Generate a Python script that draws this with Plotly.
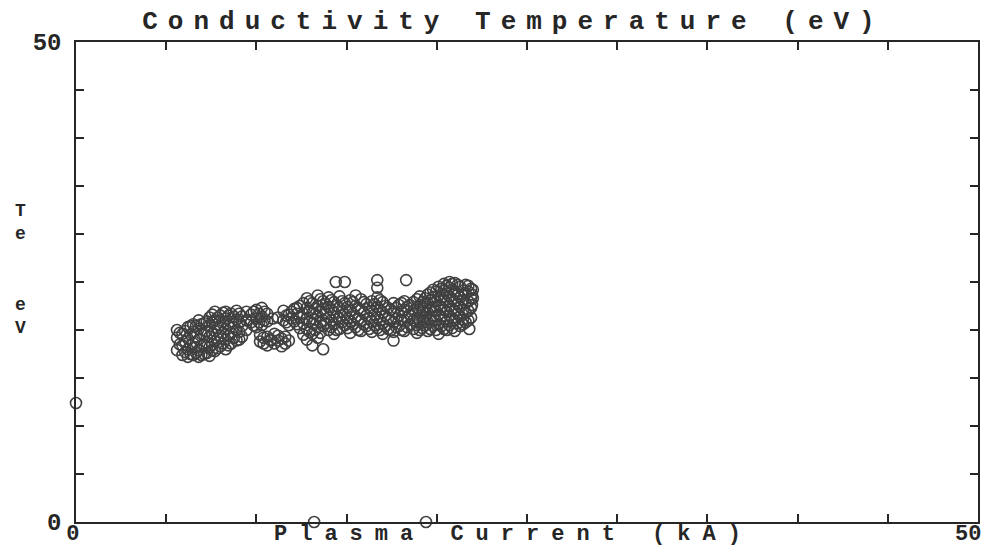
import plotly.graph_objects as go

# ---- data ----
plasma_current_ka = [
    5.6, 5.6, 5.6,
    5.9, 5.9, 5.9,
    6.2, 6.2, 6.2, 6.2,
    6.5, 6.5, 6.5, 6.5,
    6.8, 6.8, 6.8, 6.8, 6.8,
    7.1, 7.1, 7.1, 7.1,
    7.4, 7.4, 7.4, 7.4, 7.4,
    7.7, 7.7, 7.7, 7.7, 7.7,
    8.0, 8.0, 8.0, 8.0,
    8.3, 8.3, 8.3, 8.3, 8.3,
    8.6, 8.6, 8.6, 8.6,
    8.9, 8.9, 8.9, 8.9,
    9.2, 9.2, 9.2,
    9.7, 9.7, 10.0, 10.0, 10.0, 10.3, 10.3, 10.3, 10.6, 10.6, 10.9,
    10.2, 10.2, 10.6, 10.6, 11.0, 11.0, 11.4, 11.4, 11.8,
    11.5, 11.5, 11.8, 11.8, 12.1, 12.1, 12.4, 12.4, 12.4,
    12.8, 12.8, 12.8, 12.8, 12.8,
    13.1, 13.1, 13.1, 13.1, 13.1,
    13.4, 13.4, 13.4, 13.4, 13.4,
    13.7, 13.7, 13.7, 13.7, 13.7,
    14.0, 14.0, 14.0, 14.0,
    14.3, 14.3, 14.3, 14.3,
    14.4,
    14.6, 14.6, 14.6, 14.6,
    14.9, 14.9, 14.9, 14.9,
    15.2, 15.2, 15.2, 15.2,
    15.5, 15.5, 15.5, 15.5,
    15.8, 15.8, 15.8, 15.8,
    16.1, 16.1, 16.1,
    16.4, 16.4, 16.4, 16.4,
    16.7, 16.7, 16.7, 16.7, 16.7, 16.7,
    17.0, 17.0, 17.0, 17.0,
    17.3, 17.3, 17.3,
    17.6, 17.6, 17.6, 17.6, 17.6,
    17.9, 17.9, 17.9,
    18.2, 18.2, 18.2, 18.2,
    18.3,
    18.5, 18.5, 18.5,
    18.9, 18.9, 18.9, 18.9, 18.9,
    19.2, 19.2, 19.2, 19.2,
    19.5, 19.5, 19.5, 19.5, 19.5,
    19.8, 19.8, 19.8, 19.8, 19.8,
    20.1, 20.1, 20.1, 20.1, 20.1, 20.1,
    20.4, 20.4, 20.4, 20.4, 20.4, 20.4,
    20.7, 20.7, 20.7, 20.7, 20.7, 20.7,
    21.0, 21.0, 21.0, 21.0, 21.0, 21.0,
    21.3, 21.3, 21.3, 21.3, 21.3,
    21.6, 21.6, 21.6, 21.6, 21.6,
    21.8,
    21.9, 21.9, 21.9, 21.9,
    22.0, 22.0,
    0.0, 13.2, 19.4,
    # second pass of shots, read between the first ones
    5.75, 5.75,
    6.05, 6.05, 6.05,
    6.35, 6.35, 6.35, 6.35,
    6.65, 6.65, 6.65, 6.65,
    6.95, 6.95, 6.95, 6.95,
    7.25, 7.25, 7.25, 7.25,
    7.55, 7.55, 7.55, 7.55, 7.55,
    7.85, 7.85, 7.85, 7.85,
    8.15, 8.15, 8.15, 8.15,
    8.45, 8.45, 8.45, 8.45,
    8.75, 8.75, 8.75,
    9.05, 9.05, 9.05, 9.05,
    9.45, 9.45, 9.45,
    9.85, 9.85, 10.15, 10.15, 10.45, 10.45,
    10.4, 10.4, 10.8, 10.8, 11.2, 11.2, 11.6, 11.6,
    11.2, 11.65, 11.65, 11.95, 11.95,
    12.25, 12.25, 12.25,
    12.6, 12.6, 12.6, 12.6,
    12.95, 12.95, 12.95, 12.95,
    13.25, 13.25, 13.25,
    13.55, 13.55, 13.55, 13.55,
    13.85, 13.85, 13.85,
    14.15, 14.15, 14.15, 14.15,
    14.45, 14.45, 14.45,
    14.75, 14.75, 14.75,
    15.05, 15.05, 15.05,
    15.35, 15.35, 15.35,
    15.65, 15.65, 15.65,
    15.95, 15.95, 15.95,
    16.25, 16.25, 16.25,
    16.55, 16.55, 16.55,
    16.85, 16.85, 16.85, 16.85,
    17.15, 17.15, 17.15,
    17.45, 17.45, 17.45,
    17.75, 17.75, 17.75,
    18.05, 18.05, 18.05, 18.05,
    18.35, 18.35, 18.35,
    18.7, 18.7, 18.7, 18.7,
    19.05, 19.05, 19.05, 19.05, 19.05,
    19.35, 19.35, 19.35, 19.35,
    19.65, 19.65, 19.65, 19.65, 19.65,
    19.95, 19.95, 19.95, 19.95, 19.95,
    20.25, 20.25, 20.25, 20.25, 20.25,
    20.55, 20.55, 20.55, 20.55, 20.55, 20.55,
    20.85, 20.85, 20.85, 20.85, 20.85, 20.85,
    21.15, 21.15, 21.15, 21.15, 21.15,
    21.45, 21.45, 21.45, 21.45, 21.45,
    21.75, 21.75, 21.75, 21.75, 21.75,
    21.95, 21.95,
]
te_ev = [
    17.9, 19.2, 20.0,
    17.4, 18.4, 19.6,
    17.2, 18.0, 19.1, 20.3,
    17.4, 18.6, 19.8, 20.6,
    17.2, 17.9, 19.0, 20.1, 21.0,
    17.5, 18.5, 19.5, 20.7,
    17.3, 18.2, 19.3, 20.4, 21.3,
    17.8, 18.8, 19.9, 21.0, 21.9,
    18.3, 19.4, 20.5, 21.5,
    18.0, 19.0, 20.1, 21.2, 21.9,
    18.6, 19.7, 20.8, 21.7,
    18.9, 20.0, 21.1, 22.0,
    19.3, 20.4, 21.4,
    20.8, 21.6, 20.3, 21.2, 22.1, 20.5, 21.4, 22.3, 20.9, 21.7, 21.2,
    18.8, 19.5, 18.4, 19.3, 18.6, 19.6, 18.3, 19.1, 18.9,
    21.0, 22.0, 20.5, 21.6, 20.9, 22.2, 20.2, 21.3, 22.5,
    19.0, 20.1, 21.2, 22.3, 23.3,
    18.4, 19.6, 20.7, 21.8, 22.8,
    19.2, 20.3, 21.5, 22.5, 23.6,
    18.0, 20.4, 21.0, 22.2, 23.0,
    20.0, 21.3, 22.4, 23.4,
    19.6, 20.6, 21.8, 22.9,
    25.0,
    20.1, 21.2, 22.3, 23.5,
    25.0, 20.5, 21.6, 22.8,
    19.7, 20.9, 22.0, 23.1,
    20.3, 21.4, 22.5, 23.6,
    19.9, 21.0, 22.1, 23.2,
    20.4, 21.5, 22.7,
    19.8, 20.9, 22.0, 23.0,
    25.2, 24.4, 20.2, 21.3, 22.4, 23.4,
    19.6, 20.7, 21.8, 22.9,
    20.1, 21.2, 22.3,
    18.9, 19.8, 20.8, 21.9, 22.8,
    20.4, 21.5, 22.6,
    19.9, 21.0, 22.1, 23.0,
    25.2,
    20.6, 21.6, 22.6,
    19.7, 20.5, 21.3, 22.3, 23.2,
    20.2, 21.1, 22.0, 22.9,
    19.9, 20.8, 21.8, 22.8, 23.7,
    20.4, 21.4, 22.4, 23.4, 24.2,
    19.6, 20.6, 21.6, 22.6, 23.6, 24.5,
    20.1, 21.1, 22.1, 23.1, 24.1, 24.8,
    20.5, 21.5, 22.5, 23.5, 24.4, 25.0,
    19.9, 21.0, 22.0, 23.0, 24.0, 24.9,
    20.4, 21.4, 22.4, 23.4, 24.5,
    20.8, 21.8, 22.8, 23.8, 24.7,
    20.1,
    21.3, 22.3, 23.3, 24.3,
    23.3, 24.2,
    12.4, 0.0, 0.0,
    # second pass
    18.5, 19.7,
    17.7, 18.8, 19.9,
    17.5, 18.4, 19.5, 20.4,
    17.6, 18.2, 19.3, 20.4,
    17.4, 18.3, 19.6, 20.6,
    17.6, 18.7, 19.9, 20.9,
    17.9, 18.5, 19.6, 20.8, 21.6,
    18.1, 19.1, 20.2, 21.3,
    18.6, 19.7, 20.9, 21.8,
    18.4, 19.4, 20.5, 21.5,
    19.2, 20.3, 21.4,
    19.0, 19.8, 20.8, 21.7,
    20.0, 21.0, 21.9,
    20.5, 21.9, 21.7, 20.8, 21.0, 21.9,
    18.6, 19.2, 18.9, 19.0, 18.9, 19.4, 18.6, 19.3,
    21.3, 20.8, 21.5, 21.2, 21.9,
    20.6, 21.7, 22.3,
    19.5, 20.7, 21.7, 22.8,
    19.8, 20.9, 22.0, 23.0,
    20.0, 21.1, 22.2,
    19.7, 20.8, 21.9, 23.2,
    20.7, 21.7, 22.7,
    20.3, 21.0, 22.1, 23.1,
    20.0, 21.4, 22.5,
    20.8, 21.9, 23.0,
    20.2, 21.2, 22.4,
    20.6, 21.7, 22.9,
    20.0, 21.1, 22.2,
    20.6, 21.8, 22.9,
    20.1, 21.2, 22.3,
    20.5, 21.6, 22.7,
    20.0, 21.0, 22.1, 23.1,
    20.4, 21.5, 22.5,
    20.0, 21.0, 22.1,
    20.3, 21.2, 22.3,
    20.0, 21.0, 21.9, 22.8,
    20.3, 21.3, 22.4,
    20.1, 21.0, 22.0, 22.9,
    20.0, 20.9, 21.8, 22.6, 23.5,
    20.5, 21.4, 22.4, 23.3,
    20.1, 21.1, 22.1, 23.1, 23.9,
    20.0, 21.0, 22.0, 23.0, 24.0,
    20.4, 21.4, 22.4, 23.4, 24.3,
    20.0, 20.9, 21.9, 22.9, 23.8, 24.6,
    20.2, 21.2, 22.2, 23.2, 24.2, 24.8,
    20.7, 21.7, 22.7, 23.7, 24.7,
    20.6, 21.1, 22.1, 23.1, 24.1,
    21.0, 22.0, 23.0, 24.0, 24.6,
    22.6, 23.7,
]

tick_values = [0, 5, 10, 15, 20, 25, 30, 35, 40, 45, 50]
tick_labels = ["0", "", "", "", "", "", "", "", "", "", "50"]

title_text = "Conductivity Temperature (eV)"
x_title_text = "Plasma Current (kA)"
y_title_text = "T<br>e<br><br><br>e<br>V"

FONT = "Liberation Mono, Courier New, monospace"
INK = "#262626"


def spaced(s, px):
    return "<span style='letter-spacing:%dpx'>%s</span>" % (px, s)


fig = go.Figure()
fig.add_trace(go.Scatter(
    x=plasma_current_ka,
    y=te_ev,
    mode="markers",
    marker=dict(symbol="circle-open", size=11, color="#404040",
                line=dict(width=1.6, color="#404040")),
    showlegend=False,
    hoverinfo="x+y",
    cliponaxis=False,
))

axis_common = dict(
    range=[0, 50],
    tickmode="array",
    tickvals=tick_values,
    ticktext=tick_labels,
    ticks="inside",
    ticklen=8,
    tickwidth=1.5,
    tickcolor=INK,
    showline=True,
    linecolor=INK,
    linewidth=1.5,
    mirror="ticks",
    showgrid=False,
    zeroline=False,
    automargin=False,
)

# the page body adds an 8 px margin, so the figure is sized to fit inside it
fig.update_layout(
    width=975,
    height=539,
    margin=dict(l=68, r=5, t=34, b=25, autoexpand=False),
    paper_bgcolor="white",
    plot_bgcolor="white",
    font=dict(family=FONT, color=INK),
    title=dict(
        text=spaced(title_text, 10),
        font=dict(family=FONT, size=26, color=INK, weight="bold"),
        xref="paper", x=0.485, xanchor="center",
        yref="container", y=0.978, yanchor="middle",
    ),
    xaxis=dict(**axis_common,
               tickfont=dict(family=FONT, size=22, color=INK, weight="bold"),
               ticklabelposition="outside left",
               ticklabelstandoff=-10, ticklabelshift=5),
    yaxis=dict(**axis_common,
               tickfont=dict(family=FONT, size=24, color=INK, weight="bold"),
               ticklabelstandoff=8),
    annotations=[
        dict(text=spaced(x_title_text, 12), xref="paper", yref="paper",
             x=0.485, y=-0.025, xanchor="center", yanchor="middle",
             showarrow=False,
             font=dict(family=FONT, size=22, color=INK, weight="bold")),
        dict(text=y_title_text, xref="paper", yref="paper",
             x=-0.062, y=0.527, xanchor="center", yanchor="middle",
             showarrow=False,
             font=dict(family=FONT, size=18, color=INK, weight="bold")),
    ],
)

fig.write_html("out.html")
